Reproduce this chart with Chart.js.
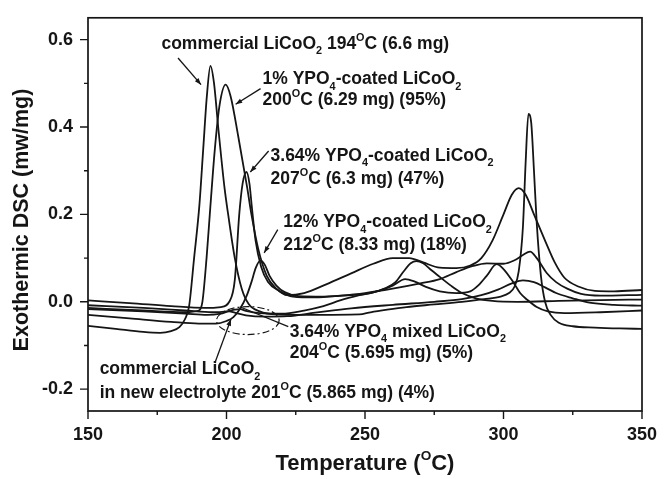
<!DOCTYPE html>
<html>
<head>
<meta charset="utf-8">
<script src="https://cdn.jsdelivr.net/npm/chart.js@4.4.1/dist/chart.umd.min.js"></script>
<style>
  html, body { margin: 0; padding: 0; background: #fff; }
  #wrap { width: 669px; height: 479px; }
</style>
</head>
<body>
<div id="wrap"><canvas id="dsc"></canvas></div>
<script>
// DSC traces, temperature (C) / heat flow (mW/mg)
const tCommercial = [150, 160, 170, 176, 180, 183, 185, 186.5, 188.3, 190.2, 191.6, 192.9, 194.2, 195.5, 197, 199.3, 200.6, 203, 205.5, 208, 212, 218, 230, 248, 252, 258, 265, 275, 285, 293, 299, 302, 304, 305.5, 307, 308, 309, 310, 311, 312, 313.5, 315, 317, 320, 325, 333, 342, 350];
const dCommercial = [-0.055, -0.062, -0.069, -0.071, -0.067, -0.058, -0.04, -0.01, 0.1, 0.22, 0.35, 0.47, 0.54, 0.5, 0.4, 0.26, 0.2, 0.1, 0.03, -0.005, -0.022, -0.029, -0.03, -0.029, -0.024, -0.018, -0.012, -0.006, 0.0, 0.006, 0.012, 0.02, 0.035, 0.07, 0.17, 0.32, 0.43, 0.41, 0.3, 0.18, 0.06, 0.0, -0.03, -0.048, -0.056, -0.059, -0.061, -0.062];

const t1pct = [150, 170, 185, 190, 191.3, 192.8, 194.2, 195.8, 197.5, 199.7, 201.5, 204.2, 207.5, 209, 211.5, 214.5, 218, 222, 228, 236, 245, 253, 260, 266, 271, 277, 283, 288, 292, 296, 300, 303, 305.5, 308, 311, 315, 318.5, 322, 327, 333, 340, 350];
const d1pct = [-0.014, -0.02, -0.024, -0.02, 0.0, 0.1, 0.22, 0.35, 0.45, 0.497, 0.47, 0.38, 0.26, 0.2, 0.12, 0.06, 0.03, 0.015, 0.02, 0.04, 0.065, 0.087, 0.1, 0.1, 0.09, 0.078, 0.077, 0.083, 0.1, 0.14, 0.2, 0.245, 0.26, 0.245, 0.2, 0.14, 0.09, 0.055, 0.035, 0.025, 0.024, 0.027];

const t364 = [150, 165, 180, 192, 198, 201, 203, 204.6, 205.8, 207.2, 208.3, 209.1, 210.5, 212.5, 215, 219, 224, 232, 241, 250, 260, 270, 277, 283, 289, 294, 300, 304, 307, 309.6, 312, 315.6, 319, 323, 328, 335, 350];
const d364 = [0.003, -0.003, -0.01, -0.014, -0.012, 0.0, 0.05, 0.2, 0.27, 0.297, 0.27, 0.22, 0.14, 0.08, 0.045, 0.025, 0.012, 0.01, 0.014, 0.02, 0.03, 0.042, 0.052, 0.068, 0.082, 0.088, 0.087, 0.095, 0.107, 0.115, 0.1, 0.066, 0.045, 0.03, 0.018, 0.014, 0.016];

const t12pct = [150, 165, 180, 190, 196, 200, 202.5, 205, 207.3, 209, 210.6, 212.2, 213.8, 215.5, 218, 221, 226, 235, 245, 252, 257, 261, 264, 266.5, 268.5, 271, 274, 277, 281, 285, 290, 296, 305, 320, 335, 350];
const d12pct = [-0.03, -0.038, -0.046, -0.05, -0.05, -0.044, -0.035, -0.015, 0.014, 0.045, 0.078, 0.094, 0.085, 0.06, 0.037, 0.022, 0.013, 0.012, 0.015, 0.02, 0.03, 0.045, 0.07, 0.088, 0.093, 0.088, 0.072, 0.057, 0.037, 0.02, 0.008, 0.002, 0.0, 0.002, 0.004, 0.005];

const tMixed = [150, 170, 185, 195, 200, 203, 205, 207, 212, 220, 228, 235, 241, 248, 255, 260, 264.5, 268, 272, 277, 283, 288, 291, 294, 297.5, 300, 303.5, 306, 308.5, 312, 316, 322, 335, 350];
const dMixed = [-0.008, -0.014, -0.02, -0.024, -0.022, -0.018, -0.017, -0.021, -0.026, -0.027, -0.02, -0.01, 0.003, 0.015, 0.025, 0.037, 0.052, 0.046, 0.034, 0.024, 0.02, 0.024, 0.038, 0.06, 0.086, 0.075, 0.045, 0.02, 0.005, -0.012, -0.022, -0.026, -0.024, -0.02];

const tNewElec = [150, 170, 185, 193, 198, 201, 203, 207, 214, 222, 232, 245, 260, 275, 285, 292, 298, 303, 307, 311, 315, 319, 325, 331, 340, 350];
const dNewElec = [-0.017, -0.022, -0.027, -0.03, -0.027, -0.022, -0.025, -0.031, -0.034, -0.033, -0.025, -0.015, -0.007, 0.0, 0.006, 0.015, 0.028, 0.042, 0.049, 0.045, 0.033, 0.02, 0.008, -0.002, -0.007, -0.009];

const xTicks = [150, 200, 250, 300, 350];
const xMinor = [175, 225, 275, 325];
const yTicks = [-0.2, 0.0, 0.2, 0.4, 0.6];
const yMinor = [-0.1, 0.1, 0.3, 0.5];

const FONT = "'Liberation Sans', Arial, sans-serif";
const INK = '#151515';

function pairs(t, d) {
  return t.map(function(x, i) { return { x: x, y: d[i] }; });
}

function trace(t, d) {
  return {
    data: pairs(t, d),
    borderColor: INK,
    borderWidth: 1.8,
    pointRadius: 0,
    fill: false,
    cubicInterpolationMode: 'monotone'
  };
}

// text pieces: 0 = normal, 1 = superscript, -1 = subscript
function drawRich(ctx, parts, x, y, size, align) {
  function fontOf(mode) {
    return 'bold ' + (mode === 0 ? size : size * 0.62) + 'px ' + FONT;
  }
  var w = 0;
  parts.forEach(function(p) { ctx.font = fontOf(p[1]); w += ctx.measureText(p[0]).width; });
  var cx = align === 'center' ? x - w / 2 : x;
  parts.forEach(function(p) {
    ctx.font = fontOf(p[1]);
    var dy = p[1] === 1 ? -0.45 * size : (p[1] === -1 ? 0.3 * size : 0);
    ctx.fillText(p[0], cx, y + dy);
    cx += ctx.measureText(p[0]).width;
  });
}

// annotation lines, placed at data coordinates (left edge, vertical middle)
const notes = [
  { x: 176.5, y: 0.593, parts: [['commercial LiCoO', 0], ['2', -1], [' 194', 0], ['O', 1], ['C (6.6 mg)', 0]] },
  { x: 213.0, y: 0.512, parts: [['1% YPO', 0], ['4', -1], ['-coated LiCoO', 0], ['2', -1]] },
  { x: 213.0, y: 0.464, parts: [['200', 0], ['O', 1], ['C (6.29 mg) (95%)', 0]] },
  { x: 215.9, y: 0.337, parts: [['3.64% YPO', 0], ['4', -1], ['-coated LiCoO', 0], ['2', -1]] },
  { x: 215.9, y: 0.285, parts: [['207', 0], ['O', 1], ['C (6.3 mg) (47%)', 0]] },
  { x: 220.5, y: 0.185, parts: [['12% YPO', 0], ['4', -1], ['-coated LiCoO', 0], ['2', -1]] },
  { x: 220.5, y: 0.134, parts: [['212', 0], ['O', 1], ['C (8.33 mg) (18%)', 0]] },
  { x: 222.8, y: -0.066, parts: [['3.64% YPO', 0], ['4', -1], [' mixed LiCoO', 0], ['2', -1]] },
  { x: 222.8, y: -0.114, parts: [['204', 0], ['O', 1], ['C (5.695 mg) (5%)', 0]] },
  { x: 154.2, y: -0.152, parts: [['commercial LiCoO', 0], ['2', -1]] },
  { x: 154.2, y: -0.206, parts: [['in new electrolyte 201', 0], ['O', 1], ['C (5.865 mg) (4%)', 0]] }
];

const pointers = [
  { from: [182.5, 0.558], to: [190.8, 0.497], head: true },
  { from: [212.3, 0.488], to: [203.3, 0.452], head: true },
  { from: [215.2, 0.345], to: [208.6, 0.297], head: true },
  { from: [218.5, 0.165], to: [213.6, 0.112], head: true },
  { from: [222.3, -0.057], to: [205.0, -0.012], head: false },
  { from: [195.8, -0.140], to: [201.6, -0.040], head: true }
];

const decor = {
  id: 'decor',
  afterDatasetsDraw: function(chart) {
    var ctx = chart.ctx, a = chart.chartArea;
    var xs = chart.scales.x, ys = chart.scales.y;
    ctx.save();
    ctx.strokeStyle = INK;
    ctx.fillStyle = INK;

    // frame
    ctx.lineWidth = 1.7;
    ctx.strokeRect(a.left, a.top, a.right - a.left, a.bottom - a.top);

    // tick marks, outward
    ctx.lineWidth = 1.4;
    ctx.beginPath();
    xTicks.forEach(function(v) { var p = xs.getPixelForValue(v); ctx.moveTo(p, a.bottom); ctx.lineTo(p, a.bottom + 8); });
    xMinor.forEach(function(v) { var p = xs.getPixelForValue(v); ctx.moveTo(p, a.bottom); ctx.lineTo(p, a.bottom + 4); });
    yTicks.forEach(function(v) { var p = ys.getPixelForValue(v); ctx.moveTo(a.left, p); ctx.lineTo(a.left - 8, p); });
    yMinor.forEach(function(v) { var p = ys.getPixelForValue(v); ctx.moveTo(a.left, p); ctx.lineTo(a.left - 4, p); });
    ctx.stroke();

    // pointers
    ctx.lineWidth = 1.3;
    pointers.forEach(function(pt) {
      var x0 = xs.getPixelForValue(pt.from[0]), y0 = ys.getPixelForValue(pt.from[1]);
      var x1 = xs.getPixelForValue(pt.to[0]), y1 = ys.getPixelForValue(pt.to[1]);
      ctx.beginPath();
      ctx.moveTo(x0, y0);
      ctx.lineTo(x1, y1);
      ctx.stroke();
      if (pt.head) {
        var ang = Math.atan2(y1 - y0, x1 - x0), len = 7, spread = 0.35;
        ctx.beginPath();
        ctx.moveTo(x1, y1);
        ctx.lineTo(x1 - len * Math.cos(ang - spread), y1 - len * Math.sin(ang - spread));
        ctx.lineTo(x1 - len * Math.cos(ang + spread), y1 - len * Math.sin(ang + spread));
        ctx.closePath();
        ctx.fill();
      }
    });

    // dash-dot ring round the small exotherms near 200 C
    var ex = xs.getPixelForValue(207.7), ey = ys.getPixelForValue(-0.043);
    var rx = xs.getPixelForValue(219.0) - ex, ry = ys.getPixelForValue(-0.075) - ey;
    ctx.setLineDash([7, 3, 2, 3]);
    ctx.lineWidth = 1.2;
    ctx.beginPath();
    ctx.ellipse(ex, ey, rx, ry, 0, 0, Math.PI * 2);
    ctx.stroke();
    ctx.setLineDash([]);

    // notes
    ctx.textBaseline = 'alphabetic';
    ctx.textAlign = 'left';
    var size = 17.5;
    notes.forEach(function(n) {
      drawRich(ctx, n.parts, xs.getPixelForValue(n.x), ys.getPixelForValue(n.y) + 0.36 * size, size, 'left');
    });

    // axis titles
    drawRich(ctx, [['Temperature (', 0], ['O', 1], ['C)', 0]], (a.left + a.right) / 2, 470, 22, 'center');
    ctx.save();
    ctx.translate(22, 220);
    ctx.rotate(-Math.PI / 2);
    ctx.textAlign = 'center';
    ctx.textBaseline = 'middle';
    ctx.font = 'bold 21.5px ' + FONT;
    ctx.fillText('Exothermic DSC (mw/mg)', 0, 0);
    ctx.restore();

    ctx.restore();
  }
};

new Chart(document.getElementById('dsc'), {
  type: 'line',
  data: {
    datasets: [
      trace(tCommercial, dCommercial),
      trace(t1pct, d1pct),
      trace(t364, d364),
      trace(t12pct, d12pct),
      trace(tMixed, dMixed),
      trace(tNewElec, dNewElec)
    ]
  },
  options: {
    responsive: true,
    maintainAspectRatio: false,
    devicePixelRatio: 1,
    animation: false,
    layout: { padding: { top: 6, right: 27, left: 0, bottom: 0 } },
    plugins: { legend: { display: false }, tooltip: { enabled: false } },
    scales: {
      x: {
        type: 'linear',
        min: 150,
        max: 350,
        afterBuildTicks: function(s) { s.ticks = xTicks.map(function(v) { return { value: v }; }); },
        afterFit: function(s) { s.height = 68; },
        border: { display: false },
        grid: { drawOnChartArea: false, drawTicks: true, tickLength: 8, color: 'rgba(0,0,0,0)' },
        ticks: { color: INK, padding: 5, maxRotation: 0, font: { family: FONT, size: 18, weight: 'bold' } }
      },
      y: {
        min: -0.25,
        max: 0.65,
        afterBuildTicks: function(s) { s.ticks = yTicks.map(function(v) { return { value: v }; }); },
        afterFit: function(s) { s.width = 88; },
        border: { display: false },
        grid: { drawOnChartArea: false, drawTicks: true, tickLength: 8, color: 'rgba(0,0,0,0)' },
        ticks: {
          color: INK,
          padding: 7,
          font: { family: FONT, size: 18, weight: 'bold' },
          callback: function(v) { return Number(v).toFixed(1); }
        }
      }
    }
  },
  plugins: [decor]
});
</script>
</body>
</html>
